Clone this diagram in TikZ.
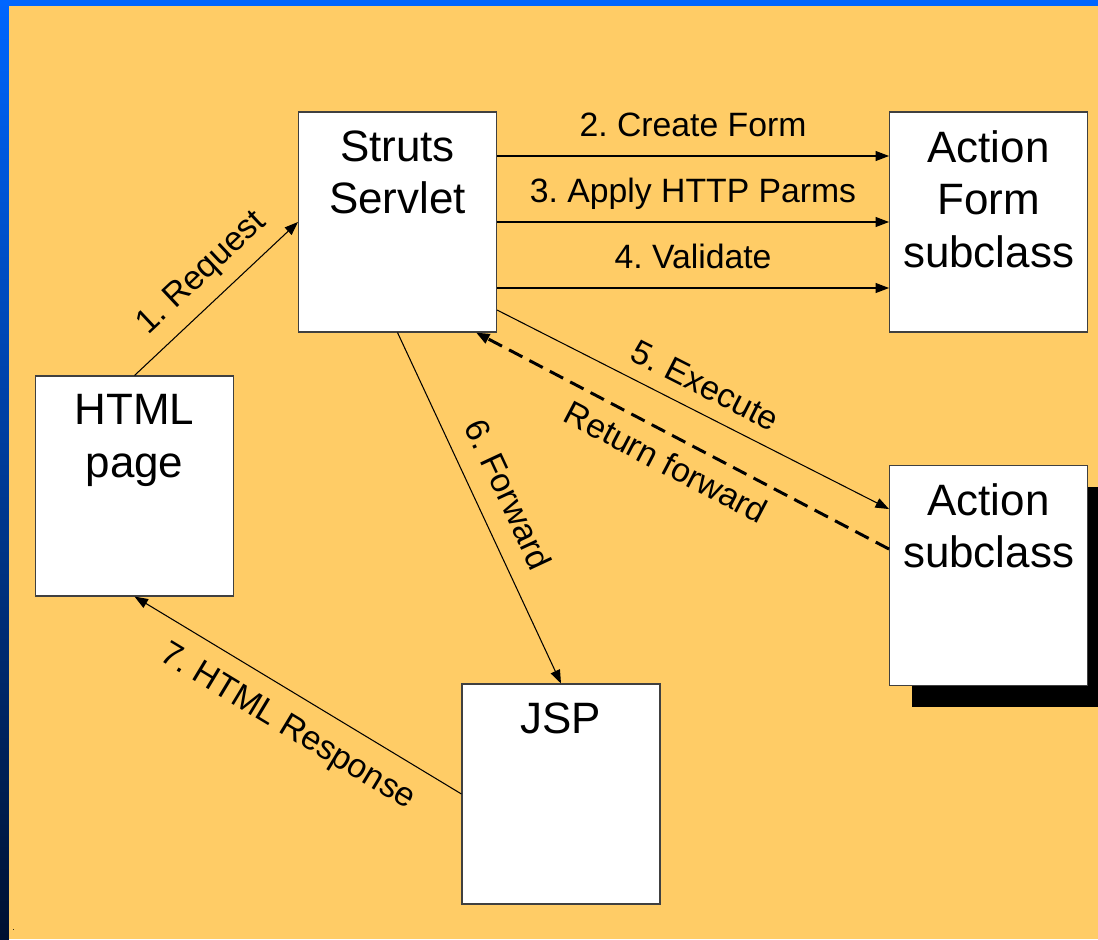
\documentclass[tikz,border=0pt]{standalone}
\usepackage{fontspec}
\setmainfont{Liberation Sans}
\frenchspacing
\usetikzlibrary{arrows.meta, calc, positioning, shadows}
\definecolor{slidebg}{HTML}{FFCC66}
\definecolor{slideblue}{HTML}{0066FF}
\definecolor{slidemid}{HTML}{0044B8}
\definecolor{slidenavy}{HTML}{001030}
\tikzset{
>={Triangle[length=0.27cm, width=0.2cm]}, % filled arrow heads
box/.style={draw=black!75, fill=white, line width=0.6pt, minimum width=3.96cm, minimum height=4.4cm}, % white component boxes
boxtext/.style={anchor=north, yshift=-0.37cm, inner sep=0pt, align=center, font=\fontsize{25}{30}\selectfont}, % title at top of a box
msg/.style={->, line width=0.6pt}, % thin message arrows
msgtext/.style={inner sep=0pt, text height=0.47cm, text depth=0pt, font=\fontsize{19.2}{22}\selectfont},
ret/.style={->, line width=1.7pt, dash pattern=on 0.3cm off 0.16cm}, % dashed return arrow
}

\begin{document}
\begin{tikzpicture}
  % Slide background ---------------------------------
  \useasboundingbox (0,0) rectangle (21.96,-18.78);
  \fill[slidebg] (0,0) rectangle (21.96,-18.78);
  \shade[top color=slideblue, middle color=slidemid, bottom color=slidenavy] (0,0) rectangle (0.18,-18.78);
  \fill[slideblue] (0,0) rectangle (21.96,-0.12);
  \node[font=\tiny, inner sep=0pt] (dot) at (0.27,-18.6) {.};

  % Boxes --------------------------------------------
  \node[box, label={[boxtext]north:Struts\\Servlet}] (servlet) at (7.95,-4.44) {};
  \node[box, right=7.84cm of servlet, label={[boxtext]north:Action\\Form\\subclass}] (form) {};
  \node[box, label={[boxtext]north:HTML\\page}] (html) at (2.69,-9.72) {};
  \node[box, below=2.64cm of form,
        drop shadow={shadow xshift=0.44cm, shadow yshift=-0.44cm, fill=black, opacity=1},
        label={[boxtext]north:Action\\subclass}] (action) {};
  \node[box, label={[boxtext]north:JSP}] (jsp) at (11.22,-15.88) {};

  % Messages -----------------------------------------
  \draw[msg] (html.north) -- (servlet.west)
    node[msgtext, pos=0.53, sloped, above=0.385cm] {1. Request};

  \foreach \dy/\txt in {1.32/2. Create Form, 0/3. Apply HTTP Parms, -1.32/4. Validate}
    \draw[msg] ([yshift=\dy cm]servlet.east) -- ([yshift=\dy cm]form.west)
      node[msgtext, midway, above=0.385cm] {\txt};

  \draw[msg] ([yshift=-1.76cm]servlet.east) -- ([yshift=1.32cm]action.west)
    node[msgtext, pos=0.5, sloped, above=0.3cm] {5. Execute};
  \draw[ret] ([yshift=0.52cm]action.west) -- ([xshift=-0.42cm]servlet.south east)
    node[msgtext, pos=0.51, sloped, below=0.265cm] {Return forward};

  \draw[msg] (servlet.south) -- (jsp.north)
    node[msgtext, pos=0.5, sloped, above=0.4cm] {6. Forward};
  \draw[msg] (jsp.west) -- (html.south)
    node[msgtext, pos=0.48, sloped, below=0.345cm] {7. HTML Response};
\end{tikzpicture}
\end{document}
